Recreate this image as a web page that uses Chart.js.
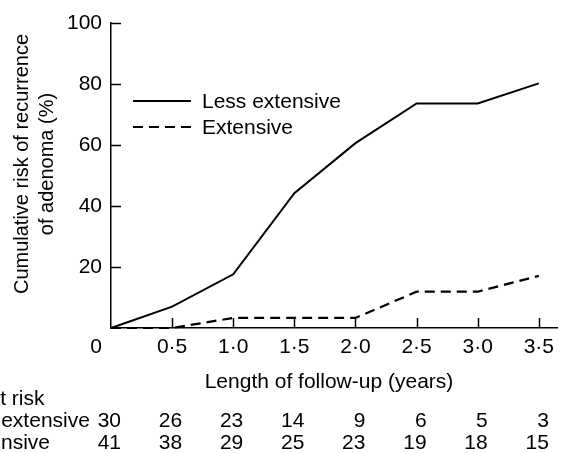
<!DOCTYPE html>
<html>
<head>
<meta charset="utf-8">
<script src="https://cdn.jsdelivr.net/npm/chart.js@4"></script>
<style>
  html, body { margin: 0; padding: 0; background: #fff; }
  #wrap { width: 561px; height: 453px; }
</style>
</head>
<body>
<div id="wrap"><canvas id="chart" width="561" height="453"></canvas></div>
<script>
// Follow-up time points (years)
const years = [0, 0.5, 1.0, 1.5, 2.0, 2.5, 3.0, 3.5];
// Cumulative risk of recurrence (%)
const lessExtensive = [0, 7, 17.6, 44.2, 60.6, 73.6, 73.6, 80.2];
const extensive = [0, 0, 3.3, 3.3, 3.3, 11.9, 11.9, 17.1];
// Numbers at risk
const atRiskLess = [30, 26, 23, 14, 9, 6, 5, 3];
const atRiskExt = [41, 38, 29, 25, 23, 19, 18, 15];
// Axis ticks
const xTicks = [0, 0.5, 1.0, 1.5, 2.0, 2.5, 3.0, 3.5];
const yTicks = [20, 40, 60, 80, 100];

const FONT = '"Liberation Sans", Arial, Helvetica, sans-serif';
Chart.defaults.font.family = FONT;
Chart.defaults.font.size = 21;
Chart.defaults.color = '#000';

const fmtYear = v => v.toFixed(1).replace('.', '\u00b7');

// Draws inward ticks, the legend, axis titles and the at-risk table
const extrasPlugin = {
    id: 'extras',
    afterDraw(chart) {
        const ctx = chart.ctx;
        const xs = chart.scales.x;
        const ys = chart.scales.y;
        const area = chart.chartArea;
        ctx.save();
        ctx.strokeStyle = '#000';
        ctx.fillStyle = '#000';

        // inward tick marks
        ctx.lineWidth = 1.5;
        ctx.beginPath();
        yTicks.forEach(v => {
            const py = Math.round(ys.getPixelForValue(v)) + 0.5;
            ctx.moveTo(area.left, py);
            ctx.lineTo(area.left + 10, py);
        });
        xTicks.slice(1).forEach(v => {
            const px = Math.round(xs.getPixelForValue(v)) + 0.5;
            ctx.moveTo(px, area.bottom);
            ctx.lineTo(px, area.bottom - 10);
        });
        ctx.stroke();

        // shared origin label
        ctx.font = '21px ' + FONT;
        ctx.textAlign = 'center';
        ctx.textBaseline = 'alphabetic';
        ctx.fillText('0', area.left - 15, 353);

        // legend
        ctx.lineWidth = 2;
        ctx.beginPath();
        ctx.moveTo(133, 101);
        ctx.lineTo(191, 101);
        ctx.stroke();
        ctx.setLineDash([10, 6]);
        ctx.beginPath();
        ctx.moveTo(133, 127);
        ctx.lineTo(191, 127);
        ctx.stroke();
        ctx.setLineDash([]);
        ctx.textAlign = 'left';
        ctx.textBaseline = 'middle';
        ctx.fillText('Less extensive', 202, 102);
        ctx.fillText('Extensive', 202, 128);

        // x axis title
        ctx.textAlign = 'center';
        ctx.textBaseline = 'alphabetic';
        ctx.fillText('Length of follow-up (years)', 329, 388);

        // y axis title
        ctx.save();
        ctx.translate(0, 164);
        ctx.rotate(-Math.PI / 2);
        ctx.font = '20px ' + FONT;
        ctx.textBaseline = 'middle';
        ctx.fillText('Cumulative risk of recurrence', 0, 22);
        ctx.fillText('of adenoma (%)', 0, 47);
        ctx.restore();

        // numbers at risk
        ctx.font = '21px ' + FONT;
        ctx.textAlign = 'left';
        ctx.fillText('No. at risk', -50, 405);
        ctx.fillText('Less extensive', -49, 427);
        ctx.fillText('Extensive', -41, 449);
        ctx.textAlign = 'right';
        years.forEach((v, i) => {
            const px = xs.getPixelForValue(v) + 10;
            ctx.fillText(String(atRiskLess[i]), px, 427);
            ctx.fillText(String(atRiskExt[i]), px, 449);
        });
        ctx.restore();
    }
};

new Chart(document.getElementById('chart'), {
    type: 'line',
    data: {
        datasets: [
            {
                label: 'Less extensive',
                data: years.map((x, i) => ({ x: x, y: lessExtensive[i] })),
                borderColor: '#000',
                borderWidth: 2,
                pointRadius: 0,
                tension: 0,
                fill: false,
                clip: false
            },
            {
                label: 'Extensive',
                data: years.map((x, i) => ({ x: x, y: extensive[i] })),
                borderColor: '#000',
                borderWidth: 2.2,
                borderDash: [10, 6],
                pointRadius: 0,
                tension: 0,
                fill: false,
                clip: false
            }
        ]
    },
    options: {
        responsive: false,
        animation: false,
        layout: { padding: { top: 23, right: 0, left: 0, bottom: 0 } },
        scales: {
            x: {
                type: 'linear',
                min: 0,
                max: 3.654,
                afterFit: s => { s.height = 125; },
                afterBuildTicks: s => { s.ticks = xTicks.map(v => ({ value: v })); },
                ticks: {
                    padding: 7,
                    maxRotation: 0,
                    autoSkip: false,
                    callback: v => (v === 0 ? '' : fmtYear(v))
                },
                grid: { drawOnChartArea: false, drawTicks: false },
                border: { display: true, color: '#000', width: 1.5 }
            },
            y: {
                min: 0,
                max: 100,
                afterFit: s => { s.width = 111; },
                afterBuildTicks: s => { s.ticks = yTicks.map(v => ({ value: v })); },
                ticks: { padding: 9 },
                grid: { drawOnChartArea: false, drawTicks: false },
                border: { display: true, color: '#000', width: 1.5 }
            }
        },
        plugins: {
            legend: { display: false },
            tooltip: { enabled: false }
        }
    },
    plugins: [extrasPlugin]
});
</script>
</body>
</html>
